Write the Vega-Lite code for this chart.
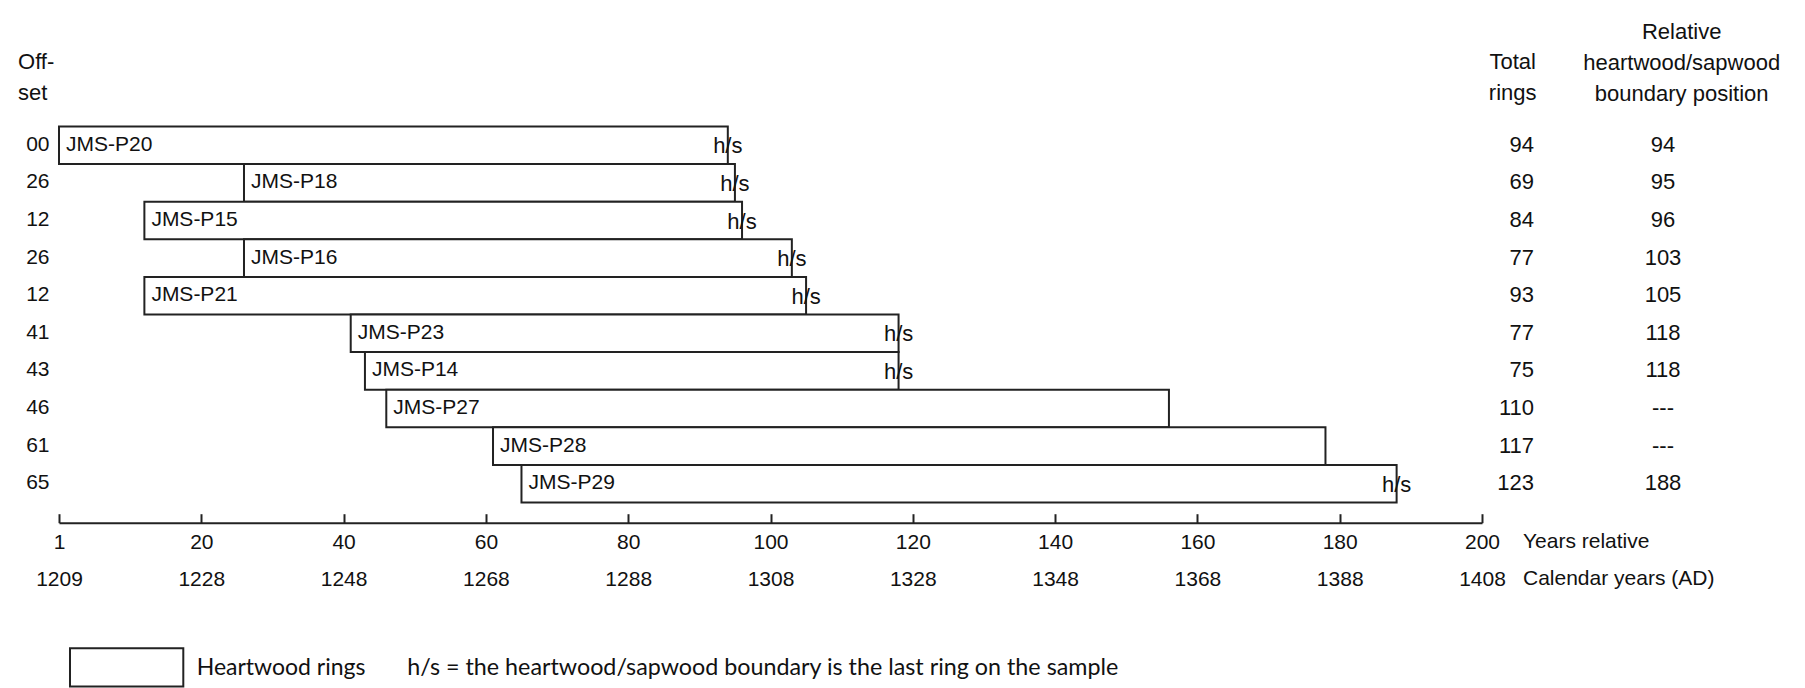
{
  "$schema": "https://vega.github.io/schema/vega-lite/v6.json",
  "width": 1423,
  "height": 376,
  "autosize": {"type": "none"},
  "padding": {"left": 59, "top": 126, "right": 323, "bottom": 186},
  "background": "white",
  "config": {
    "view": {"stroke": null},
    "text": {"font": "Liberation Sans", "color": "#111"}
  },
  "datasets": {
    "samples": [
      {"sample": "JMS-P20", "offset": "00", "start": 0, "end": 94, "rings": 94, "hs": "94"},
      {"sample": "JMS-P18", "offset": "26", "start": 26, "end": 95, "rings": 69, "hs": "95"},
      {"sample": "JMS-P15", "offset": "12", "start": 12, "end": 96, "rings": 84, "hs": "96"},
      {"sample": "JMS-P16", "offset": "26", "start": 26, "end": 103, "rings": 77, "hs": "103"},
      {"sample": "JMS-P21", "offset": "12", "start": 12, "end": 105, "rings": 93, "hs": "105"},
      {"sample": "JMS-P23", "offset": "41", "start": 41, "end": 118, "rings": 77, "hs": "118"},
      {"sample": "JMS-P14", "offset": "43", "start": 43, "end": 118, "rings": 75, "hs": "118"},
      {"sample": "JMS-P27", "offset": "46", "start": 46, "end": 156, "rings": 110, "hs": "---"},
      {"sample": "JMS-P28", "offset": "61", "start": 61, "end": 178, "rings": 117, "hs": "---"},
      {"sample": "JMS-P29", "offset": "65", "start": 65, "end": 188, "rings": 123, "hs": "188"}
    ],
    "headers": [
      {"key": "offset", "lines": ["Off-", "set"]},
      {"key": "rings", "lines": ["Total", "rings"]},
      {"key": "hs", "lines": ["Relative", "heartwood/sapwood", "boundary position"]},
      {"key": "axis", "lines": ["Years relative", "Calendar years (AD)"]}
    ],
    "legend": [
      {"swatch": "Heartwood rings", "note": "h/s = the heartwood/sapwood boundary is the last ring on the sample"}
    ]
  },
  "resolve": {"axis": {"x": "independent", "y": "independent"}},
  "layer": [
    {
      "data": {"name": "samples"},
      "transform": [{"window": [{"op": "row_number", "as": "rank"}]}],
      "resolve": {"axis": {"x": "independent", "y": "independent"}},
      "layer": [
        {
          "mark": {"type": "rect", "fill": "white", "stroke": "#222", "strokeWidth": 2},
          "encoding": {
            "x": {
              "field": "start", "type": "quantitative",
              "scale": {"domain": [0, 200], "nice": false, "zero": false},
              "axis": {
                "orient": "bottom",
                "values": [0, 20, 40, 60, 80, 100, 120, 140, 160, 180, 200],
                "labelExpr": "[format(max(datum.value, 1), 'd'), format(max(datum.value, 1) + 1208, 'd')]",
                "labelFont": "Liberation Sans",
                "labelFontSize": 21,
                "labelColor": "#111",
                "labelLineHeight": 37,
                "labelBaseline": "top",
                "labelPadding": 17.6,
                "labelFlush": false,
                "labelOverlap": false,
                "labelBound": false,
                "tickSize": -9,
                "tickWidth": 2,
                "tickColor": "#222",
                "domainColor": "#222",
                "domainWidth": 2,
                "offset": 20.7,
                "grid": false,
                "title": null
              }
            },
            "x2": {"field": "end"},
            "y": {
              "field": "rank", "type": "quantitative",
              "bin": {"step": 1, "extent": [1, 11]},
              "scale": {"domain": [1, 11], "nice": false, "zero": false, "reverse": true},
              "axis": null
            }
          }
        },
        {
          "mark": {"type": "text", "align": "left", "baseline": "middle", "dx": 7, "fontSize": 21},
          "encoding": {
            "x": {"field": "start", "type": "quantitative", "scale": {"domain": [0, 200], "nice": false, "zero": false}, "axis": null},
            "y": {"field": "rank", "type": "quantitative", "bin": {"step": 1, "extent": [1, 11]}, "scale": {"domain": [1, 11], "nice": false, "zero": false, "reverse": true}, "axis": null},
            "text": {"field": "sample"}
          }
        },
        {
          "transform": [{"filter": "datum.hs != '---'"}],
          "mark": {"type": "text", "align": "center", "baseline": "middle", "dy": 1.5, "fontSize": 22},
          "encoding": {
            "x": {"field": "end", "type": "quantitative", "scale": {"domain": [0, 200], "nice": false, "zero": false}, "axis": null},
            "y": {"field": "rank", "type": "quantitative", "bin": {"step": 1, "extent": [1, 11]}, "scale": {"domain": [1, 11], "nice": false, "zero": false, "reverse": true}, "axis": null},
            "text": {"value": "h/s"}
          }
        },
        {
          "mark": {"type": "text", "align": "right", "baseline": "middle", "fontSize": 21},
          "encoding": {
            "x": {"datum": -1.335, "type": "quantitative", "scale": {"domain": [0, 200], "nice": false, "zero": false}, "axis": null},
            "y": {"field": "rank", "type": "quantitative", "bin": {"step": 1, "extent": [1, 11]}, "scale": {"domain": [1, 11], "nice": false, "zero": false, "reverse": true}, "axis": null},
            "text": {"field": "offset"}
          }
        },
        {
          "mark": {"type": "text", "align": "right", "baseline": "middle", "fontSize": 22},
          "encoding": {
            "x": {"datum": 207.31, "type": "quantitative", "scale": {"domain": [0, 200], "nice": false, "zero": false}, "axis": null},
            "y": {"field": "rank", "type": "quantitative", "bin": {"step": 1, "extent": [1, 11]}, "scale": {"domain": [1, 11], "nice": false, "zero": false, "reverse": true}, "axis": null},
            "text": {"field": "rings"}
          }
        },
        {
          "mark": {"type": "text", "align": "center", "baseline": "middle", "fontSize": 22},
          "encoding": {
            "x": {"datum": 225.44, "type": "quantitative", "scale": {"domain": [0, 200], "nice": false, "zero": false}, "axis": null},
            "y": {"field": "rank", "type": "quantitative", "bin": {"step": 1, "extent": [1, 11]}, "scale": {"domain": [1, 11], "nice": false, "zero": false, "reverse": true}, "axis": null},
            "text": {"field": "hs"}
          }
        }
      ]
    },
    {
      "data": {"name": "headers"},
      "transform": [{"filter": "datum.key == 'offset'"}],
      "mark": {"type": "text", "align": "left", "baseline": "alphabetic", "fontSize": 22, "lineHeight": 31},
      "encoding": {
        "x": {"datum": -5.76, "type": "quantitative", "scale": {"domain": [0, 200], "nice": false, "zero": false}, "axis": null},
        "y": {"datum": -0.503, "type": "quantitative", "scale": {"domain": [1, 11], "nice": false, "zero": false, "reverse": true}, "axis": null},
        "text": {"field": "lines"}
      }
    },
    {
      "data": {"name": "headers"},
      "transform": [{"filter": "datum.key == 'rings'"}],
      "mark": {"type": "text", "align": "center", "baseline": "alphabetic", "fontSize": 22, "lineHeight": 31},
      "encoding": {
        "x": {"datum": 204.31, "type": "quantitative", "scale": {"domain": [0, 200], "nice": false, "zero": false}, "axis": null},
        "y": {"datum": -0.503, "type": "quantitative", "scale": {"domain": [1, 11], "nice": false, "zero": false, "reverse": true}, "axis": null},
        "text": {"field": "lines"}
      }
    },
    {
      "data": {"name": "headers"},
      "transform": [{"filter": "datum.key == 'hs'"}],
      "mark": {"type": "text", "align": "center", "baseline": "alphabetic", "fontSize": 22, "lineHeight": 31},
      "encoding": {
        "x": {"datum": 228.07, "type": "quantitative", "scale": {"domain": [0, 200], "nice": false, "zero": false}, "axis": null},
        "y": {"datum": -1.306, "type": "quantitative", "scale": {"domain": [1, 11], "nice": false, "zero": false, "reverse": true}, "axis": null},
        "text": {"field": "lines"}
      }
    },
    {
      "data": {"name": "headers"},
      "transform": [{"filter": "datum.key == 'axis'"}],
      "mark": {"type": "text", "align": "left", "baseline": "top", "fontSize": 21, "lineHeight": 37},
      "encoding": {
        "x": {"datum": 205.76, "type": "quantitative", "scale": {"domain": [0, 200], "nice": false, "zero": false}, "axis": null},
        "y": {"datum": 11.78, "type": "quantitative", "scale": {"domain": [1, 11], "nice": false, "zero": false, "reverse": true}, "axis": null},
        "text": {"field": "lines"}
      }
    },
    {
      "data": {"name": "legend"},
      "mark": {"type": "rect", "fill": "white", "stroke": "#222", "strokeWidth": 2},
      "encoding": {
        "x": {"datum": 1.546, "type": "quantitative", "scale": {"domain": [0, 200], "nice": false, "zero": false}, "axis": null},
        "x2": {"datum": 17.47},
        "y": {"datum": 14.89, "type": "quantitative", "scale": {"domain": [1, 11], "nice": false, "zero": false, "reverse": true}, "axis": null},
        "y2": {"datum": 15.91}
      }
    },
    {
      "data": {"name": "legend"},
      "mark": {"type": "text", "align": "left", "baseline": "alphabetic", "font": "Lato", "fontSize": 23},
      "encoding": {
        "x": {"datum": 19.35, "type": "quantitative", "scale": {"domain": [0, 200], "nice": false, "zero": false}, "axis": null},
        "y": {"datum": 15.6, "type": "quantitative", "scale": {"domain": [1, 11], "nice": false, "zero": false, "reverse": true}, "axis": null},
        "text": {"field": "swatch"}
      }
    },
    {
      "data": {"name": "legend"},
      "mark": {"type": "text", "align": "left", "baseline": "alphabetic", "font": "Lato", "fontSize": 23.3},
      "encoding": {
        "x": {"datum": 48.95, "type": "quantitative", "scale": {"domain": [0, 200], "nice": false, "zero": false}, "axis": null},
        "y": {"datum": 15.6, "type": "quantitative", "scale": {"domain": [1, 11], "nice": false, "zero": false, "reverse": true}, "axis": null},
        "text": {"field": "note"}
      }
    }
  ]
}
